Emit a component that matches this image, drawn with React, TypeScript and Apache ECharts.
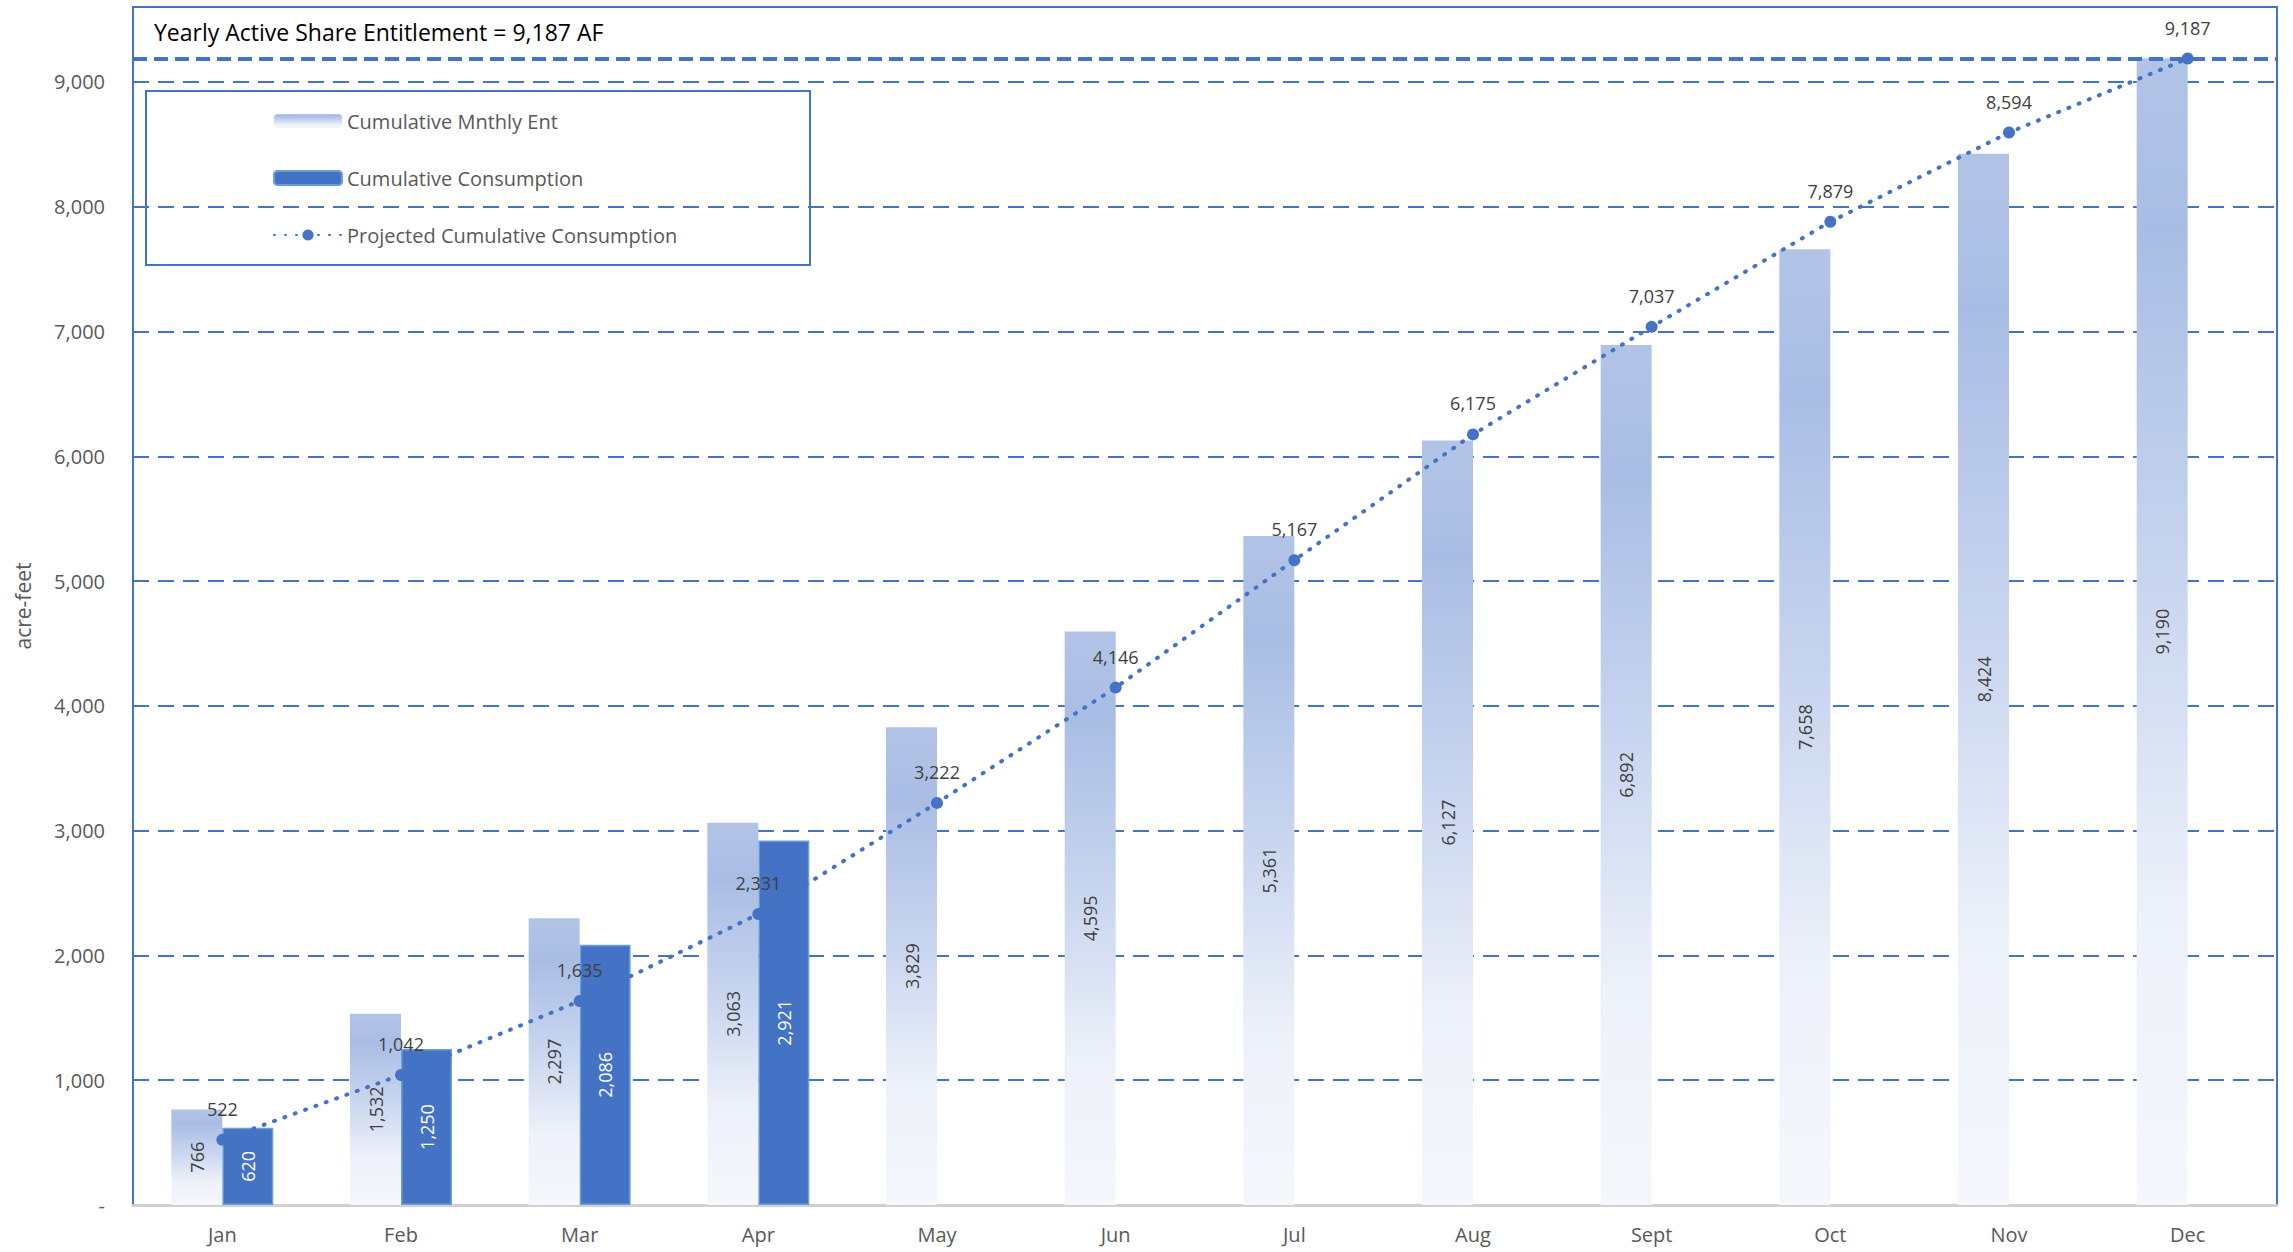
import React, { useEffect, useRef } from "react";
import * as echarts from "echarts";

const months = ["Jan", "Feb", "Mar", "Apr", "May", "Jun", "Jul", "Aug", "Sept", "Oct", "Nov", "Dec"];
const cumulativeEnt = [766, 1532, 2297, 3063, 3829, 4595, 5361, 6127, 6892, 7658, 8424, 9190];
const cumulativeConsumption: (number | null)[] = [620, 1250, 2086, 2921, null, null, null, null, null, null, null, null];
const projectedConsumption = [522, 1042, 1635, 2331, 3222, 4146, 5167, 6175, 7037, 7879, 8594, 9187];
const yearlyEntitlement = 9187;
const titleText = "Yearly Active Share Entitlement = 9,187 AF";

const BLUE = "#4472C4";
const FONT = "'Open Sans', 'Noto Sans', sans-serif";
const fmt = (v: number) => v.toLocaleString("en-US");

export default function App() {
  const ref = useRef<HTMLDivElement>(null);
  useEffect(() => {
    if (!ref.current) return;
    const chart = echarts.init(ref.current, undefined, { renderer: "svg" });
    const entGradient = {
      type: "linear",
      x: 0,
      y: 0,
      x2: 0,
      y2: 1,
      colorStops: [
        { offset: 0, color: "#b2c4e6" },
        { offset: 0.15, color: "#a9bde4" },
        { offset: 0.45, color: "#c8d5ef" },
        { offset: 0.75, color: "#edf1f9" },
        { offset: 1, color: "#f5f7fc" },
      ],
    };
    chart.setOption({
      animation: false,
      backgroundColor: "#ffffff",
      textStyle: { fontFamily: FONT },
      grid: {
        left: 133,
        right: 16,
        top: 7,
        bottom: 47,
        show: true,
        borderColor: BLUE,
        borderWidth: 2,
        containLabel: false,
      },
      legend: {
        orient: "vertical",
        left: 268,
        top: 106,
        itemWidth: 68,
        itemHeight: 14,
        itemGap: 37,
        textStyle: { fontFamily: FONT, fontSize: 20, color: "#595959" },
        data: ["Cumulative Mnthly Ent", "Cumulative Consumption", "Projected Cumulative Consumption"],
      },
      graphic: [
        {
          type: "rect",
          shape: { x: 146, y: 91, width: 664, height: 174 },
          style: { fill: "rgba(255,255,255,0)", stroke: BLUE, lineWidth: 2 },
          z: 1,
        },
        {
          type: "text",
          x: 154,
          y: 32,
          style: {
            text: titleText,
            fontFamily: FONT,
            fontSize: 23,
            fill: "#000000",
            textVerticalAlign: "middle",
          },
          z: 10,
        },
      ],
      xAxis: {
        type: "category",
        data: months,
        axisLine: { show: true, lineStyle: { color: "#d0d0d0", width: 3 } },
        axisTick: { show: false },
        axisLabel: { fontFamily: FONT, fontSize: 20, color: "#595959", margin: 19 },
      },
      yAxis: {
        type: "value",
        min: 0,
        max: 9600,
        interval: 1000,
        name: "acre-feet",
        nameLocation: "middle",
        nameGap: 100,
        nameTextStyle: { fontFamily: FONT, fontSize: 21, color: "#595959" },
        axisLine: { show: true, lineStyle: { color: BLUE, width: 2 } },
        axisTick: { show: false },
        axisLabel: {
          fontFamily: FONT,
          fontSize: 20,
          color: "#595959",
          margin: 28,
          showMaxLabel: false,
          formatter: (v: number) => (v === 0 ? "-" : v % 1000 === 0 ? fmt(v) : ""),
        },
        splitLine: { show: true, lineStyle: { color: BLUE, width: 2, type: [16, 9] } },
      },
      series: [
        {
          name: "Cumulative Mnthly Ent",
          type: "bar",
          data: cumulativeEnt,
          barWidth: 51,
          barGap: "0%",
          itemStyle: { color: entGradient },
          label: {
            show: true,
            position: "inside",
            rotate: 90,
            fontFamily: FONT,
            fontSize: 18,
            color: "#404040",
            formatter: (p: any) => fmt(p.value),
          },
          z: 2,
        },
        {
          name: "Cumulative Consumption",
          type: "bar",
          data: cumulativeConsumption,
          barWidth: 51,
          barGap: "0%",
          itemStyle: { color: BLUE, borderColor: "#6a9fd8", borderWidth: 1.5 },
          label: {
            show: true,
            position: "inside",
            rotate: 90,
            fontFamily: FONT,
            fontSize: 18,
            color: "#ffffff",
            formatter: (p: any) => (p.value == null ? "" : fmt(p.value)),
          },
          markLine: {
            silent: true,
            symbol: "none",
            label: { show: false },
            lineStyle: { color: BLUE, width: 4, type: [14, 7] },
            data: [{ yAxis: yearlyEntitlement }],
          },
          z: 3,
        },
        {
          name: "Projected Cumulative Consumption",
          type: "line",
          data: projectedConsumption,
          symbol: "circle",
          symbolSize: 12,
          itemStyle: { color: BLUE },
          lineStyle: { color: BLUE, width: 4, type: [1, 10], cap: "round" },
          label: {
            show: true,
            position: "top",
            distance: 16,
            fontFamily: FONT,
            fontSize: 18,
            color: "#404040",
            formatter: (p: any) => fmt(p.value),
          },
          z: 5,
        },
      ],
    });
    return () => chart.dispose();
  }, []);
  return (
    <div
      ref={ref}
      style={{ position: "fixed", left: 0, top: 0, width: 2293, height: 1252, background: "#fff" }}
    />
  );
}
